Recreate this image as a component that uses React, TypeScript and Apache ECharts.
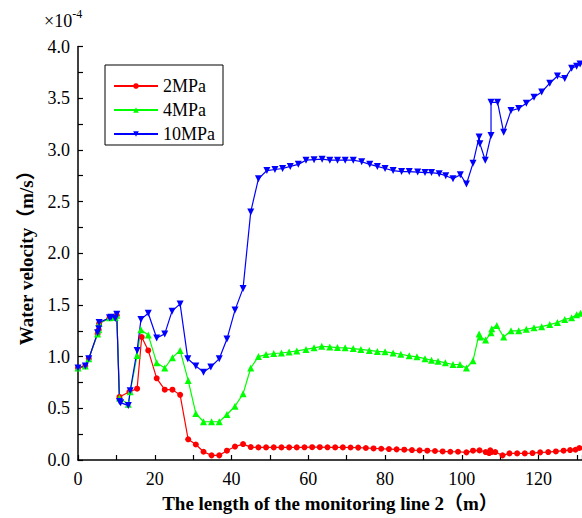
import React, { useEffect, useRef } from "react";
import * as echarts from "echarts";

// x positions (m) and velocities (×10^-4 m/s)
const x2MPa = [0, 1.9, 2.8, 5.1, 5.4, 5.5, 8.2, 8.6, 9.7, 10.1, 10.8, 13.4, 15.4, 16.6, 18.3, 20.5, 22.6, 24.6, 26.6, 28.7, 30.7, 32.7, 34.8, 36.8, 38.8, 40.9, 43, 45, 47, 49, 51, 53, 55, 57, 59, 61, 63, 65, 67, 69, 71, 73, 75, 77, 79, 81, 83, 85, 87, 89, 91, 93, 95, 97, 99, 101.2, 102.9, 104.6, 106.2, 107.1, 107.4, 107.7, 108.7, 110.6, 112.4, 114.4, 116.4, 118.4, 120.4, 122.5, 124.5, 126.5, 128.2, 129.6, 130.6];
const y2MPa = [0.89, 0.91, 0.98, 1.22, 1.26, 1.32, 1.375, 1.38, 1.38, 1.4, 0.61, 0.66, 0.69, 1.19, 1.06, 0.79, 0.68, 0.68, 0.63, 0.2, 0.15, 0.08, 0.045, 0.045, 0.09, 0.13, 0.154, 0.125, 0.122, 0.122, 0.122, 0.122, 0.122, 0.122, 0.123, 0.124, 0.124, 0.123, 0.122, 0.122, 0.121, 0.12, 0.116, 0.112, 0.109, 0.106, 0.103, 0.1, 0.096, 0.093, 0.09, 0.087, 0.083, 0.08, 0.08, 0.074, 0.09, 0.093, 0.077, 0.067, 0.093, 0.077, 0.077, 0.045, 0.064, 0.064, 0.064, 0.067, 0.074, 0.077, 0.083, 0.09, 0.096, 0.099, 0.116];

const x4MPa = [0, 1.9, 2.8, 5.1, 5.4, 5.5, 8.2, 8.6, 9.7, 10.1, 10.8, 13.1, 13.6, 15.4, 16.4, 18.3, 20.5, 22.6, 24.6, 26.6, 28.7, 30.7, 32.7, 34.8, 36.8, 38.8, 40.9, 43, 45, 47, 49, 51, 53, 55, 57, 59.4, 61.5, 63.5, 65.6, 67.6, 69.6, 71.7, 73.7, 75.9, 78, 80, 82.1, 84.1, 86.3, 88.3, 90.4, 92.1, 93.8, 95.7, 97.7, 99.5, 101.2, 102.9, 104.5, 104.8, 106.2, 107.6, 107.8, 109.1, 110.9, 112.8, 114.8, 116.8, 118.8, 120.8, 122.9, 124.9, 126.8, 128.6, 129.9, 130.9];
const y4MPa = [0.89, 0.91, 0.98, 1.22, 1.26, 1.32, 1.375, 1.38, 1.38, 1.4, 0.6, 0.54, 0.66, 1.01, 1.26, 1.21, 0.94, 0.89, 0.99, 1.06, 0.77, 0.45, 0.37, 0.37, 0.37, 0.44, 0.52, 0.64, 0.89, 1.0, 1.02, 1.03, 1.035, 1.045, 1.055, 1.07, 1.085, 1.1, 1.094, 1.088, 1.085, 1.078, 1.07, 1.06, 1.05, 1.046, 1.036, 1.023, 1.008, 0.998, 0.98, 0.965, 0.956, 0.94, 0.924, 0.924, 0.89, 0.96, 1.22, 1.19, 1.16, 1.23, 1.27, 1.3, 1.19, 1.25, 1.25, 1.264, 1.28, 1.29, 1.31, 1.33, 1.36, 1.376, 1.405, 1.42];

const x10MPa = [0, 1.9, 2.8, 5.1, 5.4, 5.5, 8.2, 8.6, 9.7, 10.1, 10.8, 11.1, 13.1, 13.6, 15.4, 16.4, 18.3, 20.5, 22.6, 24.5, 26.6, 28.6, 30.7, 32.7, 34.6, 36.8, 38.8, 40.9, 43, 45, 47, 49.2, 51.3, 53.3, 55.3, 57.4, 59.4, 61.5, 63.6, 65.6, 67.6, 69.6, 71.7, 73.9, 76, 78, 80, 82.1, 84.3, 86.3, 88.5, 90.4, 92.1, 94.1, 95.8, 97.7, 99.6, 101.2, 102.9, 104.5, 104.7, 106.1, 107.6, 107.6, 109.3, 110.9, 112.8, 114.8, 116.8, 118.8, 120.8, 122.9, 124.9, 126.8, 128.6, 129.9, 130.8, 131.5];
const y10MPa = [0.89, 0.91, 0.98, 1.23, 1.27, 1.33, 1.375, 1.38, 1.37, 1.41, 0.565, 0.555, 0.526, 0.67, 1.06, 1.36, 1.42, 1.18, 1.22, 1.44, 1.51, 0.98, 0.91, 0.85, 0.9, 0.98, 1.17, 1.45, 1.66, 2.4, 2.72, 2.8, 2.81, 2.82, 2.84, 2.86, 2.9, 2.905, 2.91, 2.9, 2.9, 2.9, 2.9, 2.885, 2.86, 2.84, 2.82, 2.8, 2.79, 2.79, 2.785, 2.78, 2.78, 2.77, 2.75, 2.72, 2.76, 2.67, 2.87, 3.125, 3.06, 2.9, 3.14, 3.46, 3.46, 3.17, 3.38, 3.4, 3.45, 3.51, 3.56, 3.645, 3.715, 3.69, 3.79, 3.81, 3.83, 3.84];

const yTickLabels = ["0.0", "0.5", "1.0", "1.5", "2.0", "2.5", "3.0", "3.5", "4.0"];

const FONT = "'Liberation Serif', 'Times New Roman', serif";
const NAME_FONT = "'Liberation Serif', 'Noto Sans CJK SC', serif";

function pairs(xs: number[], ys: number[]) {
  return xs.map((x, i) => [x, ys[i]]);
}

export default function App() {
  const ref = useRef<HTMLDivElement>(null);
  useEffect(() => {
    if (!ref.current) return;
    const chart = echarts.init(ref.current, null, { renderer: "svg" });
    const mk = (name: string, xs: number[], ys: number[], color: string, symbol: string, rotate: number, size: number) => ({
      name,
      type: "line",
      data: pairs(xs, ys),
      symbol,
      symbolSize: size,
      symbolRotate: rotate,
      showAllSymbol: true,
      color,
      lineStyle: { color, width: 1.2 },
      itemStyle: { color, borderWidth: 0 },
      emphasis: { disabled: true },
    });
    chart.setOption({
      animation: false,
      grid: { left: 78, right: 0, top: 46.5, bottom: 56, containLabel: false },
      legend: {
        orient: "vertical",
        left: 105,
        top: 65,
        padding: [12, 8, 2, 8],
        itemWidth: 44,
        itemHeight: 7,
        itemGap: 6,
        borderColor: "#000",
        borderWidth: 1,
        textStyle: { fontFamily: FONT, fontSize: 18, color: "#000", lineHeight: 18, height: 18 },
        data: ["2MPa", "4MPa", "10MPa"],
      },
      xAxis: {
        type: "value",
        min: 0,
        max: 131.3,
        interval: 20,
        name: "The length of the monitoring line 2（m）",
        nameLocation: "middle",
        nameGap: 34,
        nameTextStyle: { fontFamily: NAME_FONT, fontSize: 19, fontWeight: "bold", color: "#000" },
        axisLine: { show: true, lineStyle: { color: "#000", width: 1.5 } },
        axisTick: { show: true, inside: true, length: 5, lineStyle: { color: "#000", width: 1.2 } },
        minorTick: { show: true, splitNumber: 2, length: 5, lineStyle: { color: "#000", width: 1.2 } },
        axisLabel: { fontFamily: FONT, fontSize: 18, color: "#000", margin: 10, showMaxLabel: false },
        splitLine: { show: false },
      },
      yAxis: {
        type: "value",
        min: 0,
        max: 4,
        interval: 0.5,
        name: "Water velocity（m/s）",
        nameLocation: "middle",
        nameGap: 42,
        nameTextStyle: { fontFamily: NAME_FONT, fontSize: 19, fontWeight: "bold", color: "#000" },
        axisLine: { show: true, lineStyle: { color: "#000", width: 1.5 } },
        axisTick: { show: true, inside: true, length: 5, lineStyle: { color: "#000", width: 1.2 } },
        minorTick: { show: true, splitNumber: 2, length: 5, lineStyle: { color: "#000", width: 1.2 } },
        axisLabel: {
          fontFamily: FONT,
          fontSize: 18,
          color: "#000",
          margin: 8,
          formatter: (v: number) => yTickLabels[Math.round(v / 0.5)] ?? "",
        },
        splitLine: { show: false },
      },
      graphic: [
        {
          type: "text",
          left: 44,
          top: 8,
          style: {
            text: "{a|×10}{b|-4}",
            rich: {
              a: { fontFamily: FONT, fontSize: 18, fill: "#000", verticalAlign: "bottom", lineHeight: 22 },
              b: { fontFamily: FONT, fontSize: 12, fill: "#000", verticalAlign: "top", lineHeight: 22, padding: [0, 0, 8, 0] },
            },
          },
        },
      ],
      series: [
        mk("2MPa", x2MPa, y2MPa, "#ff0000", "circle", 0, 6),
        mk("4MPa", x4MPa, y4MPa, "#00ff00", "triangle", 0, 7),
        mk("10MPa", x10MPa, y10MPa, "#0000ff", "triangle", 180, 7),
      ],
    });
    return () => chart.dispose();
  }, []);
  return <div ref={ref} style={{ width: 582, height: 518, position: "absolute", left: 0, top: 0 }} />;
}
